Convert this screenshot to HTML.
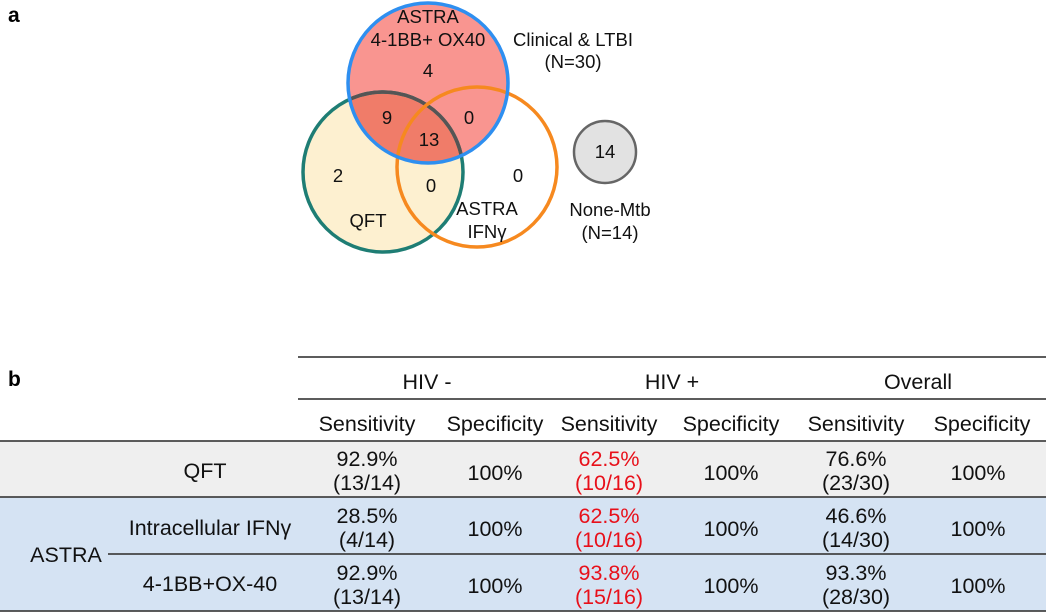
<!DOCTYPE html>
<html><head><meta charset="utf-8"><style>
body{margin:0;background:#fff}
svg{display:block;font-family:"Liberation Sans",sans-serif}
</style></head><body>
<svg width="1050" height="615" viewBox="0 0 1050 615">
<defs>
<clipPath id="cb"><circle cx="428" cy="83" r="80"/></clipPath>
</defs>
<g><text x="8" y="22" font-size="21" font-weight="bold">a</text></g>
<g>
<circle cx="383" cy="172" r="80" fill="#fdf0d0"/>
<circle cx="428" cy="83" r="80" fill="#f99590"/>
<circle cx="383" cy="172" r="80" fill="#f07c69" clip-path="url(#cb)"/>
<circle cx="383" cy="172" r="80" fill="none" stroke="#1e7d74" stroke-width="3.5"/>
<circle cx="383" cy="172" r="80" fill="none" stroke="#555" stroke-width="3.5" clip-path="url(#cb)"/>
<circle cx="477" cy="167" r="80" fill="none" stroke="#f6891f" stroke-width="3.5"/>
<circle cx="428" cy="83" r="80" fill="none" stroke="#2e8ff0" stroke-width="3.5"/>
<circle cx="605" cy="152" r="31" fill="#e2e2e2" stroke="#666" stroke-width="2.5"/>
<g font-size="18.5" text-anchor="middle" fill="#111">
<text x="428" y="23">ASTRA</text>
<text x="428" y="46">4-1BB+ OX40</text>
<text x="428" y="77">4</text>
<text x="387" y="124">9</text>
<text x="469" y="124">0</text>
<text x="429" y="146">13</text>
<text x="338" y="182">2</text>
<text x="431" y="192">0</text>
<text x="518" y="182">0</text>
<text x="368" y="227">QFT</text>
<text x="487" y="215">ASTRA</text>
<text x="487" y="238">IFNγ</text>
<text x="573" y="46">Clinical &amp; LTBI</text>
<text x="573" y="68">(N=30)</text>
<text x="605" y="158">14</text>
<text x="610" y="216">None-Mtb</text>
<text x="610" y="239">(N=14)</text>
</g>
</g>
<g><text x="8" y="386" font-size="21" font-weight="bold">b</text></g>
<g>
<rect x="0" y="441" width="1046" height="56" fill="#efefef"/>
<rect x="0" y="497" width="1046" height="114" fill="#d5e3f3"/>
<g stroke="#444" stroke-width="1.8">
<line x1="298" y1="357" x2="1046" y2="357"/>
<line x1="298" y1="399" x2="1046" y2="399"/>
<line x1="0" y1="441" x2="1046" y2="441"/>
<line x1="0" y1="497" x2="1046" y2="497"/>
<line x1="108" y1="554" x2="1046" y2="554"/>
<line x1="0" y1="611" x2="1046" y2="611"/>
</g>
<g font-size="21.5" text-anchor="middle" fill="#111">
<text x="427" y="389">HIV -</text>
<text x="672" y="389">HIV +</text>
<text x="918" y="389">Overall</text>
<text x="367" y="431">Sensitivity</text><text x="495" y="431">Specificity</text>
<text x="609" y="431">Sensitivity</text><text x="731" y="431">Specificity</text>
<text x="856" y="431">Sensitivity</text><text x="982" y="431">Specificity</text>
<text x="205" y="478">QFT</text>
<text x="210" y="535">Intracellular IFNγ</text>
<text x="66" y="562">ASTRA</text>
<text x="210" y="591">4-1BB+OX-40</text>
<text x="367" y="466">92.9%</text><text x="367" y="490">(13/14)</text>
<text x="367" y="523">28.5%</text><text x="367" y="547">(4/14)</text>
<text x="367" y="580">92.9%</text><text x="367" y="604">(13/14)</text>
<text x="495" y="480">100%</text><text x="495" y="536">100%</text><text x="495" y="593">100%</text>
<g fill="#e8101a">
<text x="609" y="466">62.5%</text><text x="609" y="490">(10/16)</text>
<text x="609" y="523">62.5%</text><text x="609" y="547">(10/16)</text>
<text x="609" y="580">93.8%</text><text x="609" y="604">(15/16)</text>
</g>
<text x="731" y="480">100%</text><text x="731" y="536">100%</text><text x="731" y="593">100%</text>
<text x="856" y="466">76.6%</text><text x="856" y="490">(23/30)</text>
<text x="856" y="523">46.6%</text><text x="856" y="547">(14/30)</text>
<text x="856" y="580">93.3%</text><text x="856" y="604">(28/30)</text>
<text x="978" y="480">100%</text><text x="978" y="536">100%</text><text x="978" y="593">100%</text>
</g>
</g>
</svg>
</body></html>
